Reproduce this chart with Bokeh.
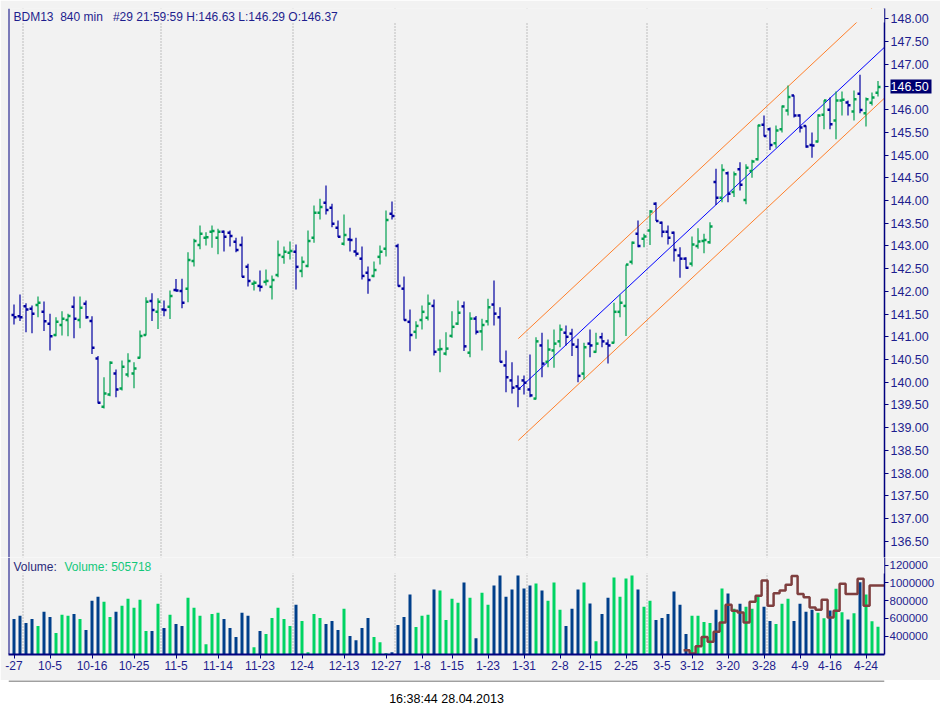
from bokeh.plotting import figure
from bokeh.models import (Range1d, FixedTicker, PrintfTickFormatter, Span, BoxAnnotation,
                          Label, LinearAxis)
from bokeh.layouts import column
from bokeh.embed import file_html
from bokeh.resources import INLINE

# ---------------- data (one bar per trading day, 27.09.2012 .. 26.04.2013) ----------------
opens = [141.48, 141.45, 141.67, 141.62, 141.70, 141.55, 141.29, 141.04, 141.26, 141.37,
         141.66, 141.37, 141.73, 141.35, 140.52, 139.46, 139.73, 140.19, 139.86, 140.17,
         140.19, 140.54, 141.04, 141.79, 141.55, 141.60, 141.66, 142.03, 142.01, 142.06,
         142.67, 143.02, 143.18, 143.31, 143.18, 143.31, 143.29, 143.09, 143.02, 142.54,
         142.17, 142.12, 142.21, 142.10, 142.36, 142.76, 142.85, 142.87, 142.45, 142.56,
         143.18, 143.73, 143.95, 143.84, 143.40, 143.05, 143.14, 142.88, 142.72, 142.41,
         142.34, 142.76, 142.94, 143.71, 143.00, 142.06, 141.33, 141.11, 141.37, 141.42,
         141.68, 140.72, 140.63, 141.02, 141.29, 141.67, 140.65, 141.40, 141.12, 141.34,
         141.71, 141.43, 140.37, 140.04, 139.91, 140.04, 139.84, 139.64, 140.81, 140.45,
         140.70, 140.90, 141.09, 141.07, 140.78, 140.19, 140.85, 140.67, 140.99, 140.85,
         140.87, 141.55, 141.68, 142.65, 143.27, 143.16, 143.34, 143.93, 143.51, 143.31,
         143.29, 142.79, 142.72, 142.61, 143.00, 143.11, 143.08, 144.41, 144.06, 144.60,
         144.19, 144.69, 144.01, 144.65, 144.91, 145.67, 145.57, 145.26, 145.57, 145.98,
         146.31, 145.87, 145.64, 145.22, 145.30, 145.89, 146.00, 145.76, 146.20, 146.16,
         145.96, 146.35, 145.92, 146.15, 146.37]
highs = [141.71, 141.93, 141.74, 141.69, 141.89, 141.78, 141.51, 141.43, 141.56, 141.51,
         141.89, 141.89, 141.80, 141.45, 140.58, 140.11, 140.46, 140.28, 140.48, 140.64,
         140.44, 141.14, 141.87, 141.96, 141.85, 141.80, 142.02, 142.27, 142.28, 142.86,
         143.16, 143.45, 143.30, 143.45, 143.38, 143.34, 143.34, 143.18, 143.21, 142.61,
         142.24, 142.46, 142.48, 142.35, 143.12, 142.99, 143.10, 143.03, 142.77, 143.34,
         143.89, 144.04, 144.33, 143.93, 143.56, 143.69, 143.40, 143.18, 142.99, 142.55,
         142.66, 143.01, 143.78, 143.98, 143.05, 142.33, 141.60, 141.34, 141.69, 141.93,
         141.82, 140.94, 141.10, 141.56, 141.80, 141.78, 141.54, 141.46, 141.40, 141.84,
         142.24, 141.65, 140.70, 140.44, 140.15, 140.15, 140.61, 140.99, 141.09, 140.94,
         141.16, 141.27, 141.25, 141.18, 140.96, 140.87, 141.16, 141.09, 141.09, 140.94,
         141.75, 141.93, 142.59, 143.10, 143.56, 143.27, 143.79, 143.96, 143.54, 143.45,
         143.32, 142.97, 142.75, 143.21, 143.39, 143.27, 143.52, 144.70, 144.80, 144.64,
         144.64, 144.84, 144.80, 144.90, 145.67, 145.87, 145.61, 145.65, 146.09, 146.53,
         146.32, 145.90, 145.65, 145.50, 145.90, 146.21, 146.27, 146.40, 146.40, 146.20,
         146.42, 146.77, 146.27, 146.38, 146.63]
lows = [141.27, 141.35, 141.10, 141.08, 141.43, 141.13, 140.70, 141.01, 141.03, 141.01,
        140.97, 141.19, 141.40, 140.62, 139.53, 139.42, 139.69, 139.67, 139.82, 140.11,
        139.87, 140.52, 141.03, 141.35, 141.17, 141.45, 141.39, 142.00, 141.63, 141.76,
        142.55, 142.93, 143.01, 142.96, 142.82, 142.88, 142.99, 142.86, 142.31, 142.11,
        142.02, 142.00, 142.13, 141.82, 142.31, 142.61, 142.70, 142.04, 142.31, 142.53,
        143.07, 143.58, 143.69, 143.41, 143.19, 143.01, 142.88, 142.77, 142.26, 141.95,
        142.31, 142.59, 142.77, 143.58, 142.11, 141.36, 140.68, 140.96, 141.16, 141.36,
        140.59, 140.22, 140.59, 140.98, 141.26, 140.69, 140.55, 141.05, 140.70, 141.25,
        141.25, 140.44, 139.78, 139.75, 139.45, 139.73, 139.67, 139.62, 140.11, 140.33,
        140.32, 140.77, 140.81, 140.58, 140.00, 140.06, 140.55, 140.65, 140.77, 140.41,
        140.85, 141.43, 141.02, 142.59, 142.97, 142.97, 143.02, 143.55, 143.19, 143.03,
        142.66, 142.30, 142.50, 142.55, 142.94, 142.84, 143.05, 143.90, 143.96, 143.96,
        144.08, 144.22, 143.92, 144.50, 144.88, 145.41, 145.11, 145.16, 145.50, 145.87,
        145.83, 145.50, 145.16, 144.94, 145.28, 145.57, 145.57, 145.35, 145.87, 145.87,
        145.76, 145.92, 145.63, 146.09, 146.29]
closes = [141.43, 141.43, 141.60, 141.51, 141.75, 141.34, 141.01, 141.33, 141.40, 141.46,
          141.40, 141.64, 141.43, 140.76, 139.55, 139.75, 140.43, 139.84, 140.34, 140.47,
          140.30, 141.02, 141.77, 141.59, 141.77, 141.59, 141.90, 142.02, 141.75, 142.69,
          143.11, 143.27, 143.19, 143.33, 143.31, 143.20, 143.22, 142.91, 142.32, 142.23,
          142.19, 142.10, 142.23, 142.25, 142.80, 142.87, 142.89, 142.54, 142.65, 143.11,
          143.73, 143.86, 143.79, 143.49, 143.20, 143.24, 143.13, 142.83, 142.34, 142.25,
          142.47, 142.87, 143.57, 143.66, 142.12, 141.37, 141.04, 141.24, 141.55, 141.73,
          140.67, 140.73, 140.74, 141.22, 141.53, 140.79, 141.40, 141.11, 141.26, 141.65,
          141.51, 140.45, 140.11, 139.88, 139.86, 139.99, 139.71, 140.90, 140.41, 140.72,
          140.85, 141.16, 141.00, 140.83, 140.14, 140.77, 140.81, 140.85, 140.90, 140.81,
          141.55, 141.75, 142.59, 143.07, 143.00, 143.21, 143.76, 143.55, 143.31, 143.18,
          142.91, 142.72, 142.52, 143.03, 143.10, 143.13, 143.43, 144.06, 144.67, 144.15,
          144.58, 144.35, 144.72, 144.86, 145.65, 145.42, 145.22, 145.54, 146.07, 146.28,
          145.87, 145.61, 145.19, 145.21, 145.87, 146.20, 145.68, 146.20, 146.22, 146.10,
          146.23, 145.99, 146.23, 146.27, 146.50]
volumes = [593000, 628000, 548000, 593000, 514000, 673000, 616000, 434000, 639000, 628000,
           650000, 593000, 468000, 798000, 844000, 787000, 616000, 673000, 741000, 821000,
           719000, 810000, 457000, 457000, 764000, 491000, 639000, 537000, 514000, 832000,
           719000, 628000, 309000, 650000, 662000, 593000, 491000, 389000, 662000, 628000,
           275000, 457000, 423000, 605000, 719000, 593000, 514000, 753000, 571000, 218000,
           650000, 605000, 537000, 571000, 468000, 707000, 400000, 354000, 491000, 605000,
           389000, 332000, 207000, 218000, 525000, 616000, 867000, 502000, 628000, 639000,
           923000, 912000, 582000, 821000, 776000, 1003000, 832000, 377000, 889000, 753000,
           969000, 1083000, 844000, 923000, 1083000, 935000, 969000, 992000, 912000, 798000,
           1003000, 696000, 514000, 707000, 923000, 1003000, 768000, 343000, 650000, 832000,
           1060000, 844000, 1049000, 1083000, 923000, 730000, 798000, 582000, 605000, 650000,
           901000, 753000, 423000, 628000, 628000, 559000, 548000, 696000, 935000, 878000,
           707000, 764000, 730000, 707000, 844000, 730000, 571000, 537000, 764000, 821000,
           571000, 764000, 673000, 696000, 662000, 601000, 688000, 932000, 669000, 587000,
           658000, 1006000, 868000, 568000, 505718]
oi_first_bar = 112
open_interest = [241000, 203000, 286000, 389000, 336000, 449000, 552000, 753000, 685000, 666000,
                 552000, 787000, 855000, 1026000, 741000, 882000, 912000, 977000, 1075000, 874000,
                 836000, 722000, 696000, 810000, 608000, 684000, 988000, 875000, 875000, 1045000,
                 741000, 969000, 969000]
tick_bars = [0, 6, 13, 20, 27, 34, 41, 48, 55, 62, 68, 73, 79, 85, 91, 96, 102, 108, 113, 119,
             125, 131, 136, 142]
tick_labels = ["-27", "10-5", "10-16", "10-25", "11-5", "11-14", "11-23", "12-4", "12-13",
               "12-27", "1-8", "1-15", "1-23", "1-31", "2-8", "2-15", "2-25", "3-5", "3-12",
               "3-20", "3-28", "4-9", "4-16", "4-24"]
month_breaks = [1.5, 24.5, 46.5, 63.5, 85.5, 105.5, 125.5]
price_ticks = [136.5, 137.0, 137.5, 138.0, 138.5, 139.0, 139.5, 140.0, 140.5, 141.0, 141.5, 142.0,
               142.5, 143.0, 143.5, 144.0, 144.5, 145.0, 145.5, 146.0, 146.5, 147.0, 147.5, 148.0]
vol_ticks = [400000, 600000, 800000, 1000000, 1200000]
vol_tick_labels = ["400000", "600000", "800000", "1000000", "120000"]
channel_bars = [84.05, 145.05]
channel_mid = [139.84, 147.37]
channel_half_width = 1.12
symbol_text = "BDM13\u00a0 840 min\u00a0\u00a0 #29 21:59:59"
timestamp_text = "16:38:44 28.04.2013"

# ---------------- layout / style ----------------
FONT = "Liberation Sans"
BG = "#F2F2F2"
NAVY = "#00007F"
TXT = "#1E1E8E"
UP_BAR, DOWN_BAR = "#00A050", "#0000A0"
UP_VOL, DOWN_VOL = "#00D463", "#003F8A"
PX_PER_BAR = 6.0
FRAME_W = 876
LEFT_B, RIGHT_B = 8, 56
X_START = -5.5 / PX_PER_BAR
X_END = X_START + FRAME_W / PX_PER_BAR
PRICE_TOP, PRICE_BOTTOM, PRICE_H = 148.227, 136.142, 549
VOL_TOP, VOL_BOTTOM, VOL_H = 1284400, 193000, 97


def price_at(px):
    return PRICE_TOP - px * (PRICE_TOP - PRICE_BOTTOM) / PRICE_H


def vol_at(px):
    return VOL_TOP - px * (VOL_TOP - VOL_BOTTOM) / VOL_H


def style_axis(a, size="12.5px"):
    a.axis_line_color = NAVY
    a.major_tick_line_color = NAVY
    a.major_tick_out = 4
    a.major_tick_in = 0
    a.minor_tick_line_color = None
    a.major_label_standoff = 2
    a.major_label_text_font = FONT
    a.major_label_text_font_size = size
    a.major_label_text_color = TXT


n = len(closes)
bars = list(range(n))
up = [c >= o for o, c in zip(opens, closes)]
bar_colors = [UP_BAR if u else DOWN_BAR for u in up]
vol_colors = [UP_VOL if u else DOWN_VOL for u in up]
xr = Range1d(X_START, X_END)
last_label = f"{closes[-1]:.2f}"

# ---------------- price pane ----------------
pp = figure(frame_width=FRAME_W, frame_height=PRICE_H, x_range=xr,
            y_range=Range1d(PRICE_BOTTOM, PRICE_TOP), y_axis_location="right",
            x_axis_location=None, output_backend="svg", toolbar_location=None,
            min_border_left=LEFT_B, min_border_right=RIGHT_B, min_border_top=8,
            min_border_bottom=0, background_fill_color=BG, border_fill_color=BG,
            outline_line_color=None)
pp.xgrid.visible = False
pp.ygrid.visible = False
ax = pp.yaxis[0]
ax.ticker = FixedTicker(ticks=price_ticks)
ax.formatter = PrintfTickFormatter(format="%.2f")
ax.major_label_overrides = {closes[-1]: ""}
style_axis(ax)
ax.axis_line_width = 1.5

# last-price marker: a one-tick axis stacked after the price scale, its tick reaching back
# over the label column as a navy box and its label pulled back onto that box
last_axis = LinearAxis(ticker=FixedTicker(ticks=[closes[-1]]),
                       major_label_overrides={closes[-1]: last_label},
                       axis_line_color=None, major_tick_line_color="#000070",
                       major_tick_line_width=14, major_tick_out=0, major_tick_in=41,
                       minor_tick_out=0, minor_tick_in=0, minor_tick_line_color=None,
                       major_label_standoff=-41, major_label_text_color="white",
                       major_label_text_font=FONT, major_label_text_font_size="12.5px")
pp.add_layout(last_axis, "right")

for mb in month_breaks:
    pp.add_layout(Span(location=mb, dimension="height", line_color="#8A8A8A",
                       line_dash="1 2", line_width=1, level="underlay"))
pp.add_layout(Span(location=X_START, dimension="height", line_color=NAVY, line_width=2))

ch_upper = [m + channel_half_width for m in channel_mid]
ch_lower = [m - channel_half_width for m in channel_mid]
pp.line(channel_bars, ch_upper, line_color="#FF7F2A", line_width=1)
pp.line(channel_bars, ch_lower, line_color="#FF7F2A", line_width=1)
pp.line(channel_bars, channel_mid, line_color="#0000FF", line_width=1)

pp.segment(x0=bars, y0=lows, x1=bars, y1=highs, line_color=bar_colors, line_width=1.2)
pp.segment(x0=[b - 0.42 for b in bars], y0=opens, x1=bars, y1=opens,
           line_color=bar_colors, line_width=2.5)
pp.segment(x0=bars, y0=closes, x1=[b + 0.42 for b in bars], y1=closes,
           line_color=bar_colors, line_width=2.5)

pp.add_layout(BoxAnnotation(bottom=price_at(14), fill_color=BG, fill_alpha=1.0,
                            line_color=None, level="guide"))
pp.add_layout(Label(x=X_START + 5 / PX_PER_BAR, y=price_at(1), text_baseline="top",
                    text=f"{symbol_text} H:{highs[-1]:.2f} L:{lows[-1]:.2f} O:{opens[-1]:.2f}",
                    text_font=FONT, text_font_size="12px", text_color=TXT, level="overlay"))

# ---------------- volume pane ----------------
pv = figure(frame_width=FRAME_W, frame_height=VOL_H, x_range=xr,
            y_range=Range1d(VOL_BOTTOM, VOL_TOP), y_axis_location="right",
            output_backend="svg", toolbar_location=None,
            min_border_left=LEFT_B, min_border_right=RIGHT_B, min_border_top=0,
            min_border_bottom=26, background_fill_color=BG, border_fill_color=BG,
            outline_line_color=None)
pv.xgrid.visible = False
pv.ygrid.visible = False
vax = pv.yaxis[0]
vax.ticker = FixedTicker(ticks=vol_ticks)
vax.major_label_overrides = {t: lab for t, lab in zip(vol_ticks, vol_tick_labels)}
style_axis(vax, "11.5px")
vax.axis_line_width = 1.5
vax.major_label_standoff = 1
xax = pv.xaxis[0]
xax.ticker = FixedTicker(ticks=tick_bars)
xax.major_label_overrides = {b: lab for b, lab in zip(tick_bars, tick_labels)}
style_axis(xax, "12px")
xax.axis_line_width = 2

for mb in month_breaks:
    pv.add_layout(Span(location=mb, dimension="height", line_color="#8A8A8A",
                       line_dash="1 2", line_width=1, level="underlay"))
pv.add_layout(Span(location=X_START, dimension="height", line_color=NAVY, line_width=2))

pv.vbar(x=bars, top=volumes, bottom=0, width=0.5, fill_color=vol_colors, line_color=None)
oi_edges = [oi_first_bar + k - 0.4 for k in range(len(open_interest))] + [X_END]
pv.step(oi_edges, open_interest + [open_interest[-1]], mode="after",
        line_color="#7F3F3F", line_width=2.5)

pv.add_layout(BoxAnnotation(bottom=vol_at(16), fill_color=BG, fill_alpha=1.0,
                            line_color=None, level="guide"))
pv.add_layout(Label(x=X_START + 5 / PX_PER_BAR, y=vol_at(9.7), text="Volume:",
                    text_baseline="middle", text_font=FONT, text_font_size="12px",
                    text_color="#2A2A7A", level="overlay"))
pv.add_layout(Label(x=X_START + 56 / PX_PER_BAR, y=vol_at(9.7), text=f"Volume: {volumes[-1]}",
                    text_baseline="middle", text_font=FONT, text_font_size="12px",
                    text_color="#12C87A", level="overlay"))

# ---------------- footer ----------------
FOOT_W = LEFT_B + FRAME_W + RIGHT_B
pf = figure(width=FOOT_W, height=35, x_range=Range1d(0, FOOT_W),
            y_range=Range1d(0, 35), x_axis_location=None, y_axis_location=None,
            output_backend="svg", toolbar_location=None, min_border=0,
            background_fill_color="white", border_fill_color="white", outline_line_color=None)
pf.xgrid.visible = False
pf.ygrid.visible = False
pf.add_layout(Span(location=35, dimension="width", line_color="#A0A0A0", line_width=3))
pf.add_layout(Label(x=470, y=17, text=timestamp_text, text_align="center",
                    text_baseline="middle", text_font=FONT, text_font_size="12.5px",
                    text_color="black"))

p = column(pp, pv, pf, spacing=0)
open("out.html", "w").write(file_html(p, INLINE))
